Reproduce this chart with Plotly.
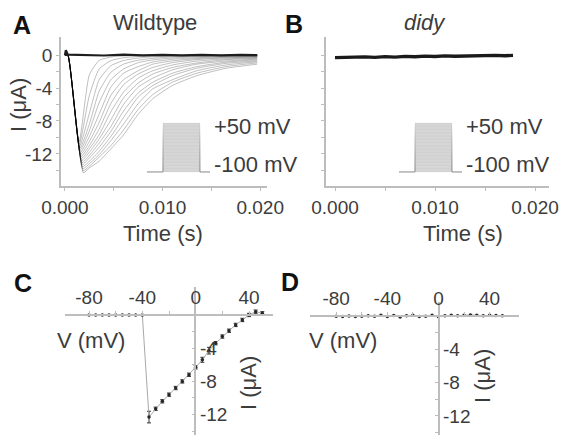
import plotly.graph_objects as go

W, H = 564, 444
FONT = "Liberation Sans, Arial, Helvetica, sans-serif"
TXT = "#3c3c3c"
AXC = "#bdbdbd"

# ---------------- Panel A : wildtype current traces (time s, current uA)
T_ONSET = 0.0003
T_DECAY = [0.0025, 0.0035, 0.0047, 0.006, 0.0075, 0.009, 0.011, 0.0135, 0.0165, 0.0197]
PEAK_T = [0.0019, 0.00187, 0.00184, 0.00181, 0.00178, 0.00175, 0.00172, 0.00169,
          0.00166, 0.00163, 0.0016, 0.00157, 0.00154, 0.00151, 0.00148, 0.00145]
PEAK_I = [-14.3, -14.05, -13.8, -13.55, -13.3, -13.05, -12.8, -12.55,
          -12.3, -12.05, -11.8, -11.55, -11.3, -11.05, -10.8, -10.55]
DECAY_I = [
    [-13.7, -12.9, -11.4, -9.7, -7.2, -5.3, -3.7, -2.5, -1.6, -1.1],
    [-13.5, -12.4, -11.0, -9.1, -6.6, -4.8, -3.3, -2.2, -1.4, -0.94],
    [-13.2, -12.1, -10.4, -8.4, -5.9, -4.1, -3.0, -1.9, -1.2, -0.8],
    [-12.9, -11.7, -9.9, -7.6, -5.1, -3.7, -2.5, -1.6, -1.0, -0.7],
    [-12.5, -11.2, -9.3, -6.8, -4.6, -3.3, -2.2, -1.4, -0.86, -0.57],
    [-12.2, -10.7, -8.7, -6.0, -3.9, -2.8, -1.8, -1.1, -0.72, -0.47],
    [-11.8, -10.2, -7.9, -5.2, -3.4, -2.3, -1.5, -0.96, -0.56, -0.38],
    [-11.4, -9.7, -6.9, -4.5, -2.8, -1.9, -1.2, -0.73, -0.46, -0.29],
    [-11.0, -9.0, -5.9, -3.6, -2.3, -1.5, -0.92, -0.55, -0.34, -0.22],
    [-10.5, -8.2, -4.9, -3.0, -1.9, -1.1, -0.7, -0.43, -0.27, -0.16],
    [-9.9, -7.2, -3.9, -2.2, -1.4, -0.83, -0.51, -0.32, -0.18, -0.11],
    [-9.2, -5.8, -3.0, -1.7, -0.92, -0.58, -0.35, -0.2, -0.12, -0.07],
    [-8.4, -4.4, -2.1, -1.1, -0.62, -0.4, -0.21, -0.12, -0.07, -0.05],
    [-7.1, -3.0, -1.3, -0.66, -0.36, -0.21, -0.12, -0.07, -0.04, -0.02],
    [-4.9, -1.7, -0.67, -0.32, -0.17, -0.1, -0.05, -0.03, -0.02, -0.01],
    [-2.4, -0.65, -0.24, -0.1, -0.05, -0.03, -0.02, -0.01, -0.01, -0.01],
]
ZERO_T = [0.0, 0.0001, 0.0003, 0.002, 0.004, 0.006, 0.008, 0.010, 0.012, 0.014, 0.016, 0.018, 0.0197]
ZERO_I = [0.0, 0.6, 0.05, 0.0, -0.05, 0.05, -0.03, 0.04, -0.04, 0.03, -0.02, 0.02, 0.0]

# ---------------- Panel B : didy current trace
B_T = [0.0, 0.001, 0.002, 0.003, 0.004, 0.005, 0.006, 0.007, 0.008, 0.009, 0.010,
       0.011, 0.012, 0.013, 0.014, 0.015, 0.016, 0.017, 0.0178]
B_I = [-0.3, -0.26, -0.32, -0.22, -0.27, -0.18, -0.24, -0.15, -0.2, -0.12, -0.17,
       -0.09, -0.13, -0.1, -0.05, -0.1, -0.03, -0.08, -0.03]

# ---------------- Voltage protocol (inset), ms / mV
PROT_T = [-8.6, 0, 0, 20, 20, 25.4]
STEP_LEVELS = [-100, -90, -80, -70, -60, -50, -40, -30, -20, -10, 0, 10, 20, 30, 40, 50]
HOLD_V = -100

# ---------------- Panels C / D : I-V curves
IV_V = [-80, -75, -70, -65, -60, -55, -50, -45, -40, -35, -30, -25, -20, -15, -10, -5,
        0, 5, 10, 15, 20, 25, 30, 35, 40, 45, 50]
C_I = [0.0, 0.0, 0.0, 0.0, 0.0, 0.0, 0.0, 0.0, 0.0, -12.3, -11.3, -10.4, -9.6, -8.8,
       -8.0, -7.2, -6.3, -5.4, -4.3, -3.4, -2.6, -1.9, -1.2, -0.6, 0.0, 0.4, 0.2]
C_ERR = [0, 0, 0, 0, 0, 0, 0, 0, 0, 0.7, 0.2, 0.2, 0.2, 0.2,
         0.2, 0.2, 0.2, 0.3, 0.4, 0.2, 0.2, 0.2, 0.2, 0.2, 0.2, 0.2, 0.2]
D_I = [0.0, -0.05, 0.02, -0.03, 0.0, 0.05, -0.02, 0.1, -0.05, 0.08, -0.1, 0.05, 0.12,
       -0.05, 0.0, 0.1, -0.08, 0.05, 0.1, 0.05, 0.1, 0.15, 0.1, 0.05, 0.1, 0.08, 0.05]

# ---------------- tick labels
A_XTICKS = [0, 0.005, 0.01, 0.015, 0.02]
A_XLABELS = ["0.000", "", "0.010", "", "0.020"]
A_YTICKS = [-14, -12, -10, -8, -6, -4, -2, 0]
A_YLABELS = ["", "-12", "", "-8", "", "-4", "", "0"]
IV_XTICKS = [-80, -60, -40, -20, 0, 20, 40]
IV_XLABELS = ["-80", "", "-40", "", "0", "", "40"]
IV_YTICKS = [-14, -12, -10, -8, -6, -4, -2]
IV_YLABELS = ["", "-12", "", "-8", "", "-4", ""]


def px(x):
    return x / W


def py(y):
    return 1 - y / H


fig = go.Figure()

# Panel A traces
for k in range(len(PEAK_I)):
    fig.add_trace(go.Scatter(
        x=[0.0, T_ONSET, PEAK_T[k]] + T_DECAY,
        y=[0.0, 0.0, PEAK_I[k]] + DECAY_I[k],
        mode="lines", line=dict(color="rgba(0,0,0,0.25)", width=1, shape="spline", smoothing=0.5),
        xaxis="x", yaxis="y", hoverinfo="skip"))
fig.add_trace(go.Scatter(x=ZERO_T, y=ZERO_I, mode="lines",
                         line=dict(color="#1e1e1e", width=2.2), xaxis="x", yaxis="y"))

# Panel B trace
fig.add_trace(go.Scatter(x=B_T, y=B_I, mode="lines",
                         line=dict(color="#1a1a1a", width=3.4), xaxis="x2", yaxis="y2"))

# Insets (voltage protocol)
for xa, ya in (("x5", "y5"), ("x6", "y6")):
    fig.add_trace(go.Scatter(
        x=[PROT_T[1], PROT_T[2], PROT_T[3], PROT_T[4], PROT_T[1]],
        y=[HOLD_V, max(STEP_LEVELS), max(STEP_LEVELS), HOLD_V, HOLD_V],
        fill="toself", fillcolor="#d6d6d6", mode="lines", line=dict(width=0),
        xaxis=xa, yaxis=ya))
    for v in STEP_LEVELS:
        fig.add_trace(go.Scatter(
            x=PROT_T, y=[HOLD_V, HOLD_V, v, v, HOLD_V, HOLD_V], mode="lines",
            line=dict(color="rgba(140,140,140,0.08)", width=1), xaxis=xa, yaxis=ya))

# Panel C
fig.add_trace(go.Scatter(
    x=IV_V, y=C_I, mode="lines+markers",
    line=dict(color="#a8a8a8", width=1),
    marker=dict(color="#262626", size=3.5),
    error_y=dict(type="data", array=C_ERR, color="#333", thickness=1, width=2),
    xaxis="x3", yaxis="y3"))
# Panel D
fig.add_trace(go.Scatter(
    x=IV_V, y=D_I, mode="lines+markers",
    line=dict(color="#a8a8a8", width=1),
    marker=dict(color="#262626", size=3.5),
    xaxis="x4", yaxis="y4"))

tickfont = dict(family=FONT, size=19, color=TXT)
common = dict(showline=True, linecolor=AXC, linewidth=1.5, showgrid=False, zeroline=False,
              ticks="outside", ticklen=3, tickcolor=AXC, tickwidth=1.2, tickfont=tickfont,
              automargin=False)

layout = dict(
    width=W, height=H, autosize=False,
    margin=dict(l=0, r=0, t=0, b=0, pad=0, autoexpand=False),
    paper_bgcolor="white", plot_bgcolor="rgba(0,0,0,0)", showlegend=False,
    font=dict(family=FONT, color=TXT),
    xaxis=dict(domain=[px(61), px(267)], range=[-0.0004, 0.0207], anchor="y",
               tickvals=A_XTICKS, ticktext=A_XLABELS, **common),
    yaxis=dict(domain=[py(186), py(37)], range=[-15.9, 2.2], anchor="x",
               tickvals=A_YTICKS, ticktext=A_YLABELS, **common),
    xaxis2=dict(domain=[px(326), px(549)], range=[-0.0009, 0.0214], anchor="y2",
                tickvals=A_XTICKS, ticktext=A_XLABELS, **common),
    yaxis2=dict(domain=[py(186), py(37)], range=[-15.9, 2.2], anchor="x2",
                tickvals=A_YTICKS, showticklabels=False, **common),
    xaxis3=dict(domain=[px(65), px(273)], range=[-98, 58], anchor="free",
                position=py(315), side="top",
                tickvals=IV_XTICKS, ticktext=IV_XLABELS, **common),
    yaxis3=dict(domain=[py(435), py(287)], range=[-14.46, 3.37], anchor="free",
                position=px(195.4), side="right",
                tickvals=IV_YTICKS, ticktext=IV_YLABELS,
                **{**common, "ticks": "inside"}),
    xaxis4=dict(domain=[px(310), px(519)], range=[-100.5, 63], anchor="free",
                position=py(316), side="top",
                tickvals=IV_XTICKS, ticktext=IV_XLABELS, **common),
    yaxis4=dict(domain=[py(435), py(302)], range=[-14.3, 1.7], anchor="free",
                position=px(438.5), side="right",
                tickvals=IV_YTICKS, ticktext=IV_YLABELS,
                **{**common, "ticks": "inside"}),
    xaxis5=dict(domain=[px(147), px(210)], range=[-8.6, 25.4], anchor="y5", visible=False),
    yaxis5=dict(domain=[py(173.3), py(121.7)], range=[-104, 54], anchor="x5", visible=False),
    xaxis6=dict(domain=[px(399), px(462)], range=[-8.6, 25.4], anchor="y6", visible=False),
    yaxis6=dict(domain=[py(173.3), py(121.7)], range=[-104, 54], anchor="x6", visible=False),
)
fig.update_layout(**layout)

ann = []


def label(text, x, y, size=22, bold=False, angle=0, color=TXT, anchor="center"):
    ann.append(dict(text=("<b>%s</b>" % text) if bold else text, x=px(x), y=py(y),
                    xref="paper", yref="paper", showarrow=False, textangle=angle,
                    xanchor=anchor, yanchor="middle",
                    font=dict(family=FONT, size=size, color=color)))


label("A", 22, 25, size=25, bold=True, color="#111")
label("B", 294, 24, size=25, bold=True, color="#111")
label("C", 23, 283, size=25, bold=True, color="#111")
label("D", 290, 282, size=25, bold=True, color="#111")
label("Wildtype", 155, 22)
label("<i>didy</i>", 425, 22)
label("I (μA)", 18, 105, angle=-90)
label("Time (s)", 163, 234)
label("Time (s)", 463, 234)
label("V (mV)", 91, 340)
label("V (mV)", 343, 340)
label("I (μA)", 248, 383, angle=-90)
label("I (μA)", 482, 376, angle=-90)

for xa, ya in (("x5", "y5"), ("x6", "y6")):
    ann.append(dict(text="+50 mV", x=PROT_T[-1], y=max(STEP_LEVELS), xref=xa, yref=ya,
                    showarrow=False, xanchor="left", yanchor="middle", xshift=2, yshift=-3,
                    font=dict(family=FONT, size=22, color=TXT)))
    ann.append(dict(text="-100 mV", x=PROT_T[-1], y=HOLD_V, xref=xa, yref=ya,
                    showarrow=False, xanchor="left", yanchor="middle", xshift=2, yshift=7,
                    font=dict(family=FONT, size=22, color=TXT)))

fig.update_layout(annotations=ann)
fig.write_html("out.html")
